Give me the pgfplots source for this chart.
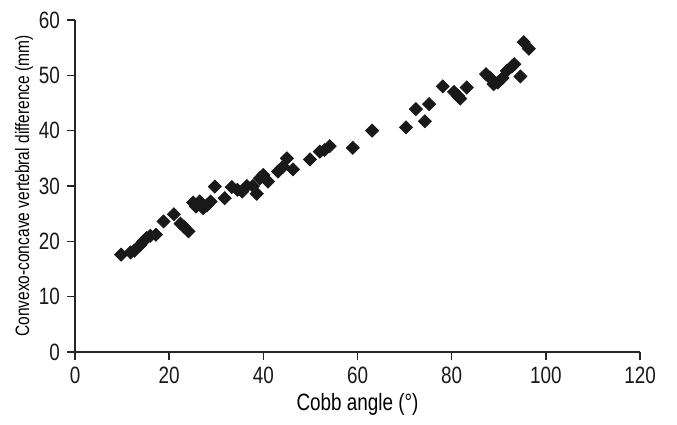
\documentclass[border=0pt]{standalone}
\usepackage{fontspec}
\setmainfont{Liberation Sans}[FakeStretch=0.8]
\usepackage{pgfplots}
\pgfplotsset{compat=1.18}

\pgfplotstableread{
x y
9.8 17.6
11.8 18.0
12.6 18.3
13.8 19.3
14.5 20.0
15.2 20.6
16.0 21.0
17.2 21.2
18.8 23.6
21.0 24.9
22.4 23.2
23.2 22.6
24.1 21.8
25.1 27.0
25.7 26.3
26.5 27.2
27.2 26.0
28.0 26.5
28.8 27.2
29.7 29.9
31.8 27.8
33.3 29.8
34.5 29.3
35.5 29.0
36.5 30.0
37.8 30.0
38.6 28.6
39.3 31.4
40.0 32.0
41.0 30.8
43.1 32.6
44.2 33.5
45.0 35.0
46.3 33.0
49.9 34.8
52.0 36.2
53.0 36.5
54.1 37.2
59.0 36.9
63.1 40.0
70.3 40.6
72.4 43.9
74.3 41.7
75.2 44.8
78.1 48.0
80.5 47.0
81.3 46.3
81.8 45.8
83.2 47.8
87.3 50.2
88.2 49.5
88.9 48.4
89.8 48.7
90.8 49.5
91.7 50.8
92.8 51.6
93.3 52.0
94.6 49.8
95.3 56.0
96.4 54.8
}\cobbdata

\begin{document}
\begin{tikzpicture}
\begin{axis}[
  scale only axis,
  width=282.5pt, height=166pt,
  xmin=0, xmax=120, ymin=0, ymax=60,
  xtick={0,20,...,120}, ytick={0,10,...,60},
  axis lines=left,
  axis line style={-, line width=0.8pt, black!85},
  tick style={line width=0.8pt, black!85},
  tick align=outside,
  major tick length=4pt,
  /pgf/number format/assume math mode=true,
  tick label style={font=\fontsize{11.8}{13}\selectfont, black!90},
  xlabel={Cobb angle (°)},
  ylabel={Convexo-concave vertebral difference (mm)},
  xlabel style={font=\fontsize{11.8}{13}\selectfont, yshift=2pt},
  ylabel style={font=\fontsize{9.7}{11}\selectfont, yshift=-4pt},
  clip=false,
]
\addplot[only marks, mark=square*, mark size=2.3pt,
  mark options={rotate=45, fill=black!90, draw=black!90}]
  table[x=x, y=y] {\cobbdata};
\end{axis}
\path (current axis.south west) ++(-37.5pt,-36.5pt) coordinate (bb1);
\path (current axis.north east) ++(18.5pt,10pt) coordinate (bb2);
\useasboundingbox (bb1) rectangle (bb2);
\end{tikzpicture}
\end{document}
